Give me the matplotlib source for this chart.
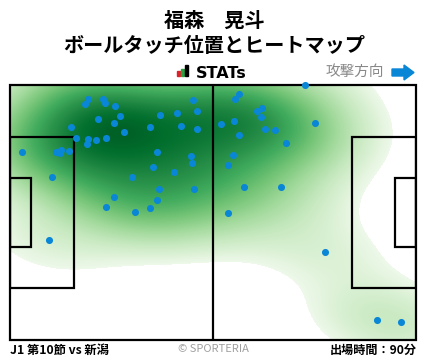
import matplotlib
matplotlib.use('Agg')
import matplotlib.pyplot as plt
import numpy as np
from matplotlib.patches import Rectangle, Polygon

plt.rcParams['font.family'] = ['Noto Sans CJK JP', 'DejaVu Sans']

# ball touch positions (pitch metres, 105 x 68, attacking to the right)
touch_x = [20.2, 24.1, 19.5, 24.5, 27.2, 47.4, 48.4, 43.3, 38.9, 28.5,
           22.8, 27.0, 15.9, 36.3, 44.3, 48.4, 29.6, 17.0, 20.2, 22.3,
           24.9, 20.0, 3.2, 11.9, 13.3, 13.0, 15.3, 38.1, 46.9, 47.1,
           37.1, 42.5, 10.9, 31.6, 38.6, 47.7, 27.0, 38.1, 24.9, 36.3,
           32.4, 10.1,
           76.4, 59.3, 58.3, 65.2, 64.0, 65.0, 54.6, 58.0, 79.0, 66.0,
           68.6, 59.3, 71.5, 57.7, 56.5, 60.6, 70.2, 56.5, 81.5, 95.0,
           101.2]
touch_y = [64.3, 64.3, 62.9, 63.2, 62.4, 63.9, 61.0, 60.5, 59.9, 59.7,
           58.9, 57.8, 56.7, 56.7, 57.0, 56.2, 55.6, 53.8, 53.6, 53.3,
           54.0, 52.2, 50.1, 50.1, 50.6, 49.8, 50.3, 50.1, 49.0, 47.1,
           46.1, 44.7, 43.4, 43.4, 40.2, 40.2, 38.1, 37.3, 35.4, 35.2,
           34.1, 26.6,
           68.0, 65.5, 64.2, 61.8, 61.0, 59.4, 57.5, 58.3, 57.8, 56.4,
           55.9, 54.6, 52.5, 49.3, 46.6, 40.7, 40.7, 33.8, 23.4, 5.3,
           4.7]

player = '福森　晃斗'
subtitle = 'ボールタッチ位置とヒートマップ'
match_label = 'J1 第10節 vs 新潟'
minutes_label = '出場時間：90分'


def kde_grid(xs, ys, gx, gy, adjust=1.0):
    data = np.vstack([xs, ys])
    n = data.shape[1]
    factor = n ** (-1.0 / 6) * adjust
    cov = np.cov(data) * factor ** 2
    inv = np.linalg.inv(cov)
    pts = np.vstack([gx.ravel(), gy.ravel()])
    diff = pts[:, :, None] - data[:, None, :]
    m = np.einsum('ipk,ij,jpk->pk', diff, inv, diff)
    z = np.exp(-0.5 * m).sum(axis=1)
    return z.reshape(gx.shape)


def iso_level(z, prop):
    zs = np.sort(z.ravel())
    cum = np.cumsum(zs)
    cum /= cum[-1]
    return np.interp(prop, cum, zs)


fig = plt.figure(figsize=(4.28, 3.59), dpi=100)
ax = fig.add_axes([10 / 428, 19 / 359, 406 / 428, 255 / 359])

bw = 1.15
wx, wy = np.meshgrid(np.linspace(-20, 125, 200), np.linspace(-20, 88, 150))
zw = kde_grid(np.array(touch_x), np.array(touch_y), wx, wy, adjust=bw)
lo = iso_level(zw, 0.03)

gx, gy = np.meshgrid(np.linspace(0, 105, 406), np.linspace(0, 68, 255))
z = kde_grid(np.array(touch_x), np.array(touch_y), gx, gy, adjust=bw)
t = np.clip((z - lo) / (z.max() - lo), 0, 1)
rgba = plt.get_cmap('Greens')(0.05 + 0.86 * t ** 0.6)
rgba[..., 3] = np.where(z >= lo, 1.0, 0.0)
ax.imshow(rgba, origin='lower', extent=[0, 105, 0, 68], aspect='auto',
          interpolation='bilinear', zorder=1)

# pitch lines
lc = 'black'
lw = 1.6
ax.add_patch(Rectangle((0, 0), 105, 68, fill=False, ec=lc, lw=lw, zorder=3, clip_on=False))
ax.plot([52.5, 52.5], [0, 68], color=lc, lw=lw, zorder=3)
ax.add_patch(Rectangle((0, 13.84), 16.5, 40.32, fill=False, ec=lc, lw=lw, zorder=3))
ax.add_patch(Rectangle((105 - 16.5, 13.84), 16.5, 40.32, fill=False, ec=lc, lw=lw, zorder=3))
ax.add_patch(Rectangle((0, 24.84), 5.5, 18.32, fill=False, ec=lc, lw=lw, zorder=3))
ax.add_patch(Rectangle((105 - 5.5, 24.84), 5.5, 18.32, fill=False, ec=lc, lw=lw, zorder=3))

ax.scatter(touch_x, touch_y, s=26, color='#0a86d6', zorder=4, clip_on=False, linewidths=0)

ax.set_xlim(0, 105)
ax.set_ylim(0, 68)
ax.axis('off')

# header
fig.text(0.5, 1 - 20 / 359, player, ha='center', va='center', fontsize=14.5, fontweight='bold')
fig.text(0.5, 1 - 46 / 359, subtitle, ha='center', va='center', fontsize=14.5, fontweight='bold')

ov = fig.add_axes([0, 0, 1, 1], facecolor='none')
ov.set_xlim(0, 428)
ov.set_ylim(359, 0)
ov.axis('off')
ov.add_patch(Rectangle((177, 70.5), 3, 5, color='#e0202a'))
ov.add_patch(Rectangle((181, 68.5), 3, 7, color='#2aa040'))
ov.add_patch(Rectangle((185, 65), 3, 10.5, color='black'))
ov.text(196, 73, 'STATs', ha='left', va='center', fontsize=11.5, fontweight='bold',
        family='DejaVu Sans')
ov.text(384, 72, '攻撃方向', ha='right', va='center', fontsize=10.5, color='#888888')
ov.add_patch(Polygon([(392, 69), (404, 69), (404, 65), (414, 72.5), (404, 80),
                      (404, 76), (392, 76)], closed=True, color='#0a86d6'))

ov.text(10, 350, match_label, ha='left', va='center', fontsize=8.8, fontweight='bold')
ov.text(213, 349, '© SPORTERIA', ha='center', va='center', fontsize=8, color='#a0a0a0')
ov.text(417, 350, minutes_label, ha='right', va='center', fontsize=8.7, fontweight='bold')

fig.savefig('out.png', dpi=100)
